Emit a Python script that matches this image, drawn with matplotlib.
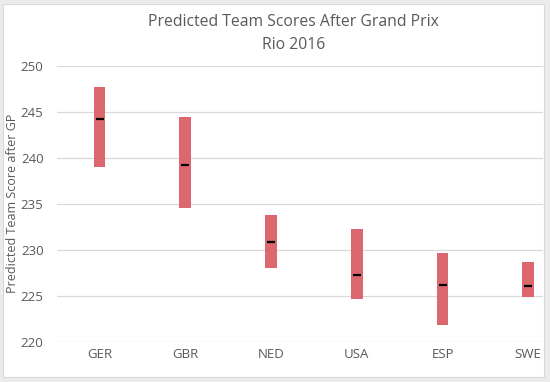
import matplotlib.pyplot as plt
from matplotlib.patches import Rectangle

teams = ["GER", "GBR", "NED", "USA", "ESP", "SWE"]
low = [239.0, 234.5, 228.05, 224.6, 221.85, 224.8]
high = [247.7, 244.4, 233.75, 232.3, 229.6, 228.7]
mean = [244.2, 239.2, 230.85, 227.2, 226.2, 226.1]

plt.rcParams['font.family'] = ['Open Sans', 'DejaVu Sans']
gray = '#595959'

fig = plt.figure(figsize=(5.5, 3.82), dpi=100)
fig.patch.set_facecolor('#ebebeb')
fig.patches.append(Rectangle((3/550, 1 - 377/382), 541/550, 373/382,
                             transform=fig.transFigure, facecolor='white',
                             edgecolor='#d9d9d9', linewidth=0.8, zorder=-5))

ax = fig.add_axes([0.103, 0.106, 0.884, 0.721])
ax.set_facecolor('none')
ax.set_zorder(2)
x = list(range(len(teams)))
ax.bar(x, [h - l for h, l in zip(high, low)], bottom=low, width=0.136,
       color='#db5f67', alpha=0.95, zorder=2)
ax.scatter(x, mean, marker='_', s=40, color='black', linewidths=1.6, zorder=3)

ax.set_ylim(220, 250)
ax.set_xlim(-0.5, 5.17)
ax.set_yticks(range(220, 251, 5))
ax.set_xticks(x)
ax.set_xticklabels(teams)
ax.grid(axis='y', color='#d9d9d9', linewidth=0.9, zorder=0)
ax.set_axisbelow(True)
for s in ax.spines.values():
    s.set_visible(False)
ax.tick_params(length=0, colors=gray, labelsize=9.5)
ax.tick_params(axis='x', pad=4.5)
ax.tick_params(axis='y', pad=9.5)
ax.set_ylabel('Predicted Team Score after GP', color=gray, fontsize=9)
ax.yaxis.set_label_coords(-0.078, 0.5)
fig.text(0.533, 1 - 22/382, 'Predicted Team Scores After Grand Prix',
         ha='center', va='center', fontsize=11.3, color=gray)
fig.text(0.533, 1 - 45/382, 'Rio 2016',
         ha='center', va='center', fontsize=11.3, color=gray)

fig.savefig('out.png', dpi=100, facecolor=fig.get_facecolor())
